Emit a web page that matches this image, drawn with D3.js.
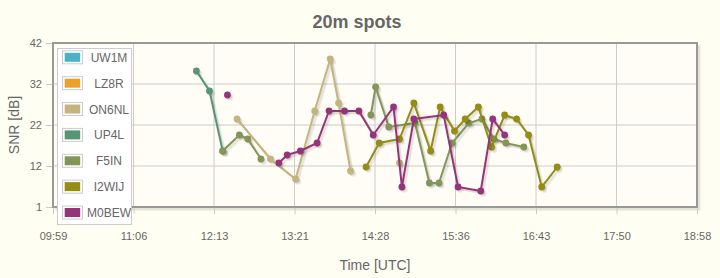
<!DOCTYPE html>
<html>
<head>
<meta charset="utf-8">
<script src="https://cdn.jsdelivr.net/npm/d3@7"></script>
<style>
  body { margin: 0; background: #fffef2; }
  svg { display: block; font-family: "Liberation Sans", Arial, sans-serif; }
</style>
</head>
<body>
<svg id="chart" width="720" height="278"></svg>
<script>
// series names and colours (legend order)
const seriesNames = ["UW1M", "LZ8R", "ON6NL", "UP4L", "F5IN", "I2WIJ", "M0BEW"];
const seriesColors = ["#4bb2c5", "#eaa228", "#c5b47f", "#579575", "#839557", "#958c12", "#953579"];

// spot times (UTC) and SNR values, null = gap in the line
const uw1mTimes = [];
const uw1mSnr = [];
const lz8rTimes = [];
const lz8rSnr = [];
const on6nlTimes = ["12:33", "13:01", "13:22", "13:38", "13:51", "13:58", "14:08", null, "14:49"];
const on6nlSnr = [23, 13, 8, 25, 38, 27, 10, null, 12];
const up4lTimes = ["11:59", "12:10", "12:21"];
const up4lSnr = [35, 30, 15];
const f5inTimes = ["12:21", "12:35", "12:42", "12:53", null, "14:25", "14:29", "14:40", "15:02", "15:14", "15:22", "15:33", "15:47", "15:58", "16:08", "16:18", "16:33"];
const f5inSnr = [15, 19, 18, 13, null, 24, 31, 21, 22, 7, 7, 17, 22, 23, 18, 17, 16];
const i2wijTimes = ["14:21", "14:32", "14:49", "15:01", "15:15", "15:23", "15:35", "15:44", "15:55", "16:06", "16:17", "16:27", "16:37", "16:48", "17:01"];
const i2wijSnr = [11, 17, 18, 27, 15, 26, 20, 23, 26, 16, 24, 23, 19, 6, 11];
const m0bewTimes = ["12:25", null, "13:08", "13:15", "13:26", "13:40", "13:50", "14:03", "14:15", "14:27", "14:44", "14:51", "15:01", "15:26", "15:38", "15:57", "16:07", "16:17"];
const m0bewSnr = [29, null, 12, 14, 15, 17, 25, 25, 25, 19, 26, 6, 23, 24, 6, 5, 23, 19];

// axis tick labels
const xTickLabels = ["09:59", "11:06", "12:13", "13:21", "14:28", "15:36", "16:43", "17:50", "18:58"];
const yTickLabels = ["1", "12", "22", "32", "42"];

const width = 720;
const height = 278;
const margin = { top: 43, right: 23, bottom: 71, left: 53 };
const parseTime = d3.timeParse("%H:%M");

const seriesData = [
  [uw1mTimes, uw1mSnr], [lz8rTimes, lz8rSnr], [on6nlTimes, on6nlSnr], [up4lTimes, up4lSnr],
  [f5inTimes, f5inSnr], [i2wijTimes, i2wijSnr], [m0bewTimes, m0bewSnr]
].map(([times, snr], i) => ({
  name: seriesNames[i],
  color: seriesColors[i],
  points: times.map((t, j) => ({ time: t === null ? null : parseTime(t), snr: snr[j] }))
}));

const svg = d3.select("#chart");

const xScale = d3.scaleTime()
  .domain([parseTime(xTickLabels[0]), parseTime(xTickLabels[xTickLabels.length - 1])])
  .range([margin.left, width - margin.right]);

const yScale = d3.scaleLinear()
  .domain([+yTickLabels[0], +yTickLabels[yTickLabels.length - 1]])
  .range([height - margin.bottom, margin.top]);

// ticks are evenly spaced, labels are rounded
const xDomain = xScale.domain();
const xTicks = xTickLabels.map((d, i) => new Date(+xDomain[0] + (xDomain[1] - xDomain[0]) * i / (xTickLabels.length - 1)));
const yDomain = yScale.domain();
const yTicks = yTickLabels.map((d, i) => yDomain[0] + (yDomain[1] - yDomain[0]) * i / (yTickLabels.length - 1));

const plotW = width - margin.left - margin.right;
const plotH = height - margin.top - margin.bottom;

// title
svg.append("text")
  .attr("x", 357).attr("y", 28)
  .attr("text-anchor", "middle")
  .attr("font-size", 18).attr("font-weight", "bold")
  .attr("fill", "#666")
  .text("20m spots");

// grid background
svg.append("rect")
  .attr("x", margin.left).attr("y", margin.top)
  .attr("width", plotW).attr("height", plotH)
  .attr("fill", "#fffdf6");

// grid lines
svg.append("g")
  .selectAll("line")
  .data(xTicks.slice(1, -1))
  .join("line")
  .attr("x1", (d) => xScale(d)).attr("x2", (d) => xScale(d))
  .attr("y1", margin.top).attr("y2", height - margin.bottom)
  .attr("stroke", "#cccccc");

svg.append("g")
  .selectAll("line")
  .data(yTicks.slice(1, -1))
  .join("line")
  .attr("x1", margin.left).attr("x2", width - margin.right)
  .attr("y1", (d) => yScale(d)).attr("y2", (d) => yScale(d))
  .attr("stroke", "#cccccc");

// border shadow
[1, 2, 3].forEach((o) => {
  svg.append("path")
    .attr("d", `M${margin.left + o},${height - margin.bottom + o}H${width - margin.right + o}V${margin.top + o}`)
    .attr("fill", "none")
    .attr("stroke", "rgba(0,0,0,0.07)")
    .attr("stroke-width", 1.5);
});
svg.append("rect")
  .attr("x", margin.left).attr("y", margin.top)
  .attr("width", plotW).attr("height", plotH)
  .attr("fill", "none")
  .attr("stroke", "#999999")
  .attr("stroke-width", 2);

// axes
const xAxis = d3.axisBottom(xScale)
  .tickValues(xTicks)
  .tickSize(6)
  .tickPadding(18)
  .tickFormat((d, i) => xTickLabels[i]);

const gx = svg.append("g")
  .attr("transform", `translate(0,${height - margin.bottom + 1})`)
  .call(xAxis);
gx.select(".domain").remove();
gx.selectAll("line").attr("stroke", "#cccccc");
gx.selectAll("text").attr("font-size", 11).attr("fill", "#666")
  .attr("font-family", "Liberation Sans, Arial, sans-serif");

const yAxis = d3.axisLeft(yScale)
  .tickValues(yTicks)
  .tickSize(6)
  .tickPadding(4)
  .tickFormat((d, i) => yTickLabels[i]);

const gy = svg.append("g")
  .attr("transform", `translate(${margin.left - 1},0)`)
  .call(yAxis);
gy.select(".domain").remove();
gy.selectAll("line").attr("stroke", "#cccccc");
gy.selectAll("text").attr("font-size", 11).attr("fill", "#666")
  .attr("font-family", "Liberation Sans, Arial, sans-serif");

// axis titles
svg.append("text")
  .attr("x", 375).attr("y", 270)
  .attr("text-anchor", "middle")
  .attr("font-size", 14).attr("fill", "#666")
  .text("Time [UTC]");

svg.append("text")
  .attr("transform", "translate(19,125) rotate(-90)")
  .attr("text-anchor", "middle")
  .attr("font-size", 14).attr("fill", "#666")
  .text("SNR [dB]");

// series
const line = d3.line()
  .defined((d) => d.time !== null)
  .x((d) => xScale(d.time))
  .y((d) => yScale(d.snr));

const plot = svg.append("g");

seriesData.forEach((s) => {
  const pts = s.points.filter((d) => d.time !== null);
  // shadow
  [1, 2, 3].forEach((o) => {
    plot.append("path")
      .attr("d", line(s.points))
      .attr("transform", `translate(${o * 0.9},${o * 0.9})`)
      .attr("fill", "none")
      .attr("stroke", "rgba(0,0,0,0.06)")
      .attr("stroke-width", 2);
    plot.append("g")
      .attr("transform", `translate(${o * 0.9},${o * 0.9})`)
      .selectAll("circle")
      .data(pts)
      .join("circle")
      .attr("cx", (d) => xScale(d.time))
      .attr("cy", (d) => yScale(d.snr))
      .attr("r", 3.2)
      .attr("fill", "rgba(0,0,0,0.06)");
  });
  plot.append("path")
    .attr("d", line(s.points))
    .attr("fill", "none")
    .attr("stroke", s.color)
    .attr("stroke-width", 2);
  plot.append("g")
    .selectAll("circle")
    .data(pts)
    .join("circle")
    .attr("cx", (d) => xScale(d.time))
    .attr("cy", (d) => yScale(d.snr))
    .attr("r", 3.4)
    .attr("fill", s.color);
});

// legend
const legend = svg.append("g");
legend.append("rect")
  .attr("x", 57.5).attr("y", 48.5)
  .attr("width", 74).attr("height", 176)
  .attr("fill", "#ffffff")
  .attr("stroke", "#cccccc");

const rowY = d3.scalePoint()
  .domain(seriesNames)
  .range([57.3, 212.5]);

const rows = legend.selectAll("g.row")
  .data(seriesData)
  .join("g")
  .attr("class", "row")
  .attr("transform", (d) => `translate(0,${rowY(d.name)})`);

rows.append("rect")
  .attr("x", 62.5).attr("y", -6.5)
  .attr("width", 20).attr("height", 13)
  .attr("fill", "none")
  .attr("stroke", "#cccccc");
rows.append("rect")
  .attr("x", 64.7).attr("y", -4.5)
  .attr("width", 15.5).attr("height", 9)
  .attr("fill", (d) => d.color);
rows.append("text")
  .attr("x", 109).attr("y", 4.5)
  .attr("text-anchor", "middle")
  .attr("font-size", 12)
  .attr("fill", "#666")
  .text((d) => d.name);
</script>
</body>
</html>
